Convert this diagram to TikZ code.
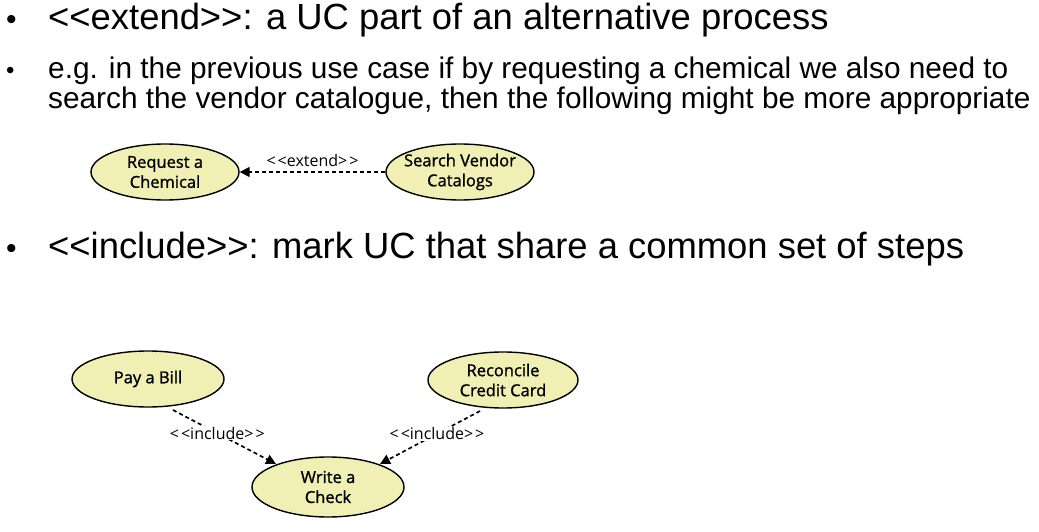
\documentclass[tikz,border=0pt]{standalone}
\usepackage{fontspec}
\setmainfont{Liberation Sans}[Ligatures=NoCommon]
\newfontfamily\ucfont{Open Sans}[FakeBold=1.2]
\newfontfamily\stfont{Open Sans}
\usetikzlibrary{shapes.geometric,arrows.meta}
\definecolor{ucfill}{RGB}{240,240,180}
\tikzset{
  uc/.style={ellipse,draw=black,line width=1.4pt,fill=ucfill,minimum width=#1,minimum height=56pt,inner sep=0pt,inner xsep=-6pt,align=center,font=\ucfont\fontsize{16.5}{20}\selectfont},
  uc/.default=150pt,
  rel/.style={dash pattern=on 4pt off 3pt,line width=1.7pt,-{Triangle[length=10pt,width=10pt]}},
  stereo/.style={font=\stfont\fontsize{16}{18}\selectfont,fill=white,inner sep=1pt},
  bul/.style={anchor=base west,inner sep=0pt},
  bigtxt/.style={font=\fontsize{36.4}{42}\selectfont},
  smalltxt/.style={font=\fontsize{29.8}{34}\selectfont,align=left}
}
\begin{document}
\begin{tikzpicture}[x=1pt,y=-1pt]
\useasboundingbox (0,0) rectangle (1039,532);
% bullets
\node[bul,font=\fontsize{30}{36}\selectfont] (b1d) at (6,30) {•};
\node[bul,bigtxt] (b1) at (48,30) {<{}<extend>{}>: a UC part of an alternative process};
\node[bul,font=\fontsize{24}{30}\selectfont] (b2d) at (6,79) {•};
\node[bul,smalltxt] (b2a) at (48,79) {e.g. in the previous use case if by requesting a chemical we also need to};
\node[bul,smalltxt] (b2b) at (48,109) {search the vendor catalogue, then the following might be more appropriate};
\node[bul,font=\fontsize{30}{36}\selectfont] (b3d) at (6,258) {•};
\node[bul,bigtxt] (b3) at (48,258) {<{}<include>{}>: mark UC that share a common set of steps};
% extend diagram
\node[uc=148pt] (req) at (165,172) {Request a\\Chemical};
\node[uc=148pt] (srch) at (460,172) {Search Vendor\\Catalogs};
\draw[rel] (srch) -- (req) node[midway,above=3pt,font=\stfont\fontsize{16}{18}\selectfont,inner sep=1pt] {<\kern2pt<extend>\kern2pt>};
% include diagram
\node[uc=152pt] (pay) at (148,379) {Pay a Bill};
\node[uc=150pt] (rec) at (503,380) {Reconcile\\Credit Card};
\node[uc=152pt,minimum height=60pt] (chk) at (328,487) {Write a\\Check};
\coordinate (payout) at (173,410);
\coordinate (recout) at (480,411);
\coordinate (chkinl) at (276,464);
\coordinate (chkinr) at (380,464);
\draw[rel] (payout) -- (chkinl) node[pos=0.43,stereo] {<\kern2pt<include>\kern2pt>};
\draw[rel] (recout) -- (chkinr) node[pos=0.43,stereo] {<\kern2pt<include>\kern2pt>};
\end{tikzpicture}
\end{document}
